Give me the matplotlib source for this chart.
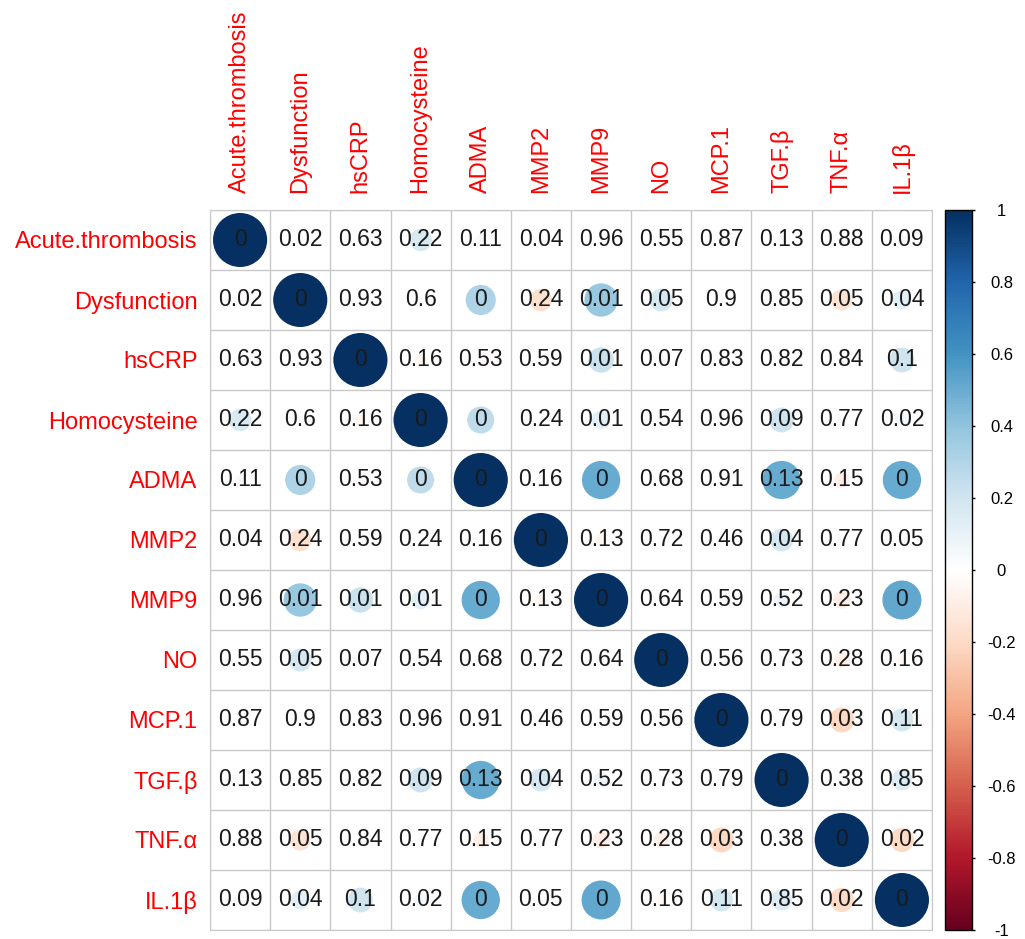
import numpy as np
import matplotlib
matplotlib.use('Agg')
import matplotlib.pyplot as plt
from matplotlib.colors import LinearSegmentedColormap, Normalize
from matplotlib.patches import Circle
import matplotlib.cm as cm

plt.rcParams['font.family'] = ['Liberation Sans', 'DejaVu Sans']

labels = ['Acute.thrombosis', 'Dysfunction', 'hsCRP', 'Homocysteine', 'ADMA', 'MMP2',
          'MMP9', 'NO', 'MCP.1', 'TGF.β', 'TNF.α', 'IL.1β']

corr = np.array([
    [1, -0.03, 0.02, 0.17, -0.04, 0.03, 0.02, 0.02, 0.02, 0.03, -0.02, 0.04],
    [-0.03, 1, 0.02, -0.02, 0.31, -0.17, 0.38, 0.18, 0.02, 0.02, -0.15, 0.12],
    [0.02, 0.02, 1, -0.05, -0.03, 0.02, 0.22, 0.03, -0.02, 0.02, 0.02, 0.21],
    [0.17, -0.02, -0.05, 1, 0.25, 0.02, 0.12, 0.03, 0.01, 0.21, 0.02, 0.06],
    [-0.04, 0.31, -0.03, 0.25, 1, 0.03, 0.5, 0.02, 0.01, 0.5, -0.08, 0.5],
    [0.03, -0.17, 0.02, 0.02, 0.03, 1, -0.05, 0.02, 0.03, 0.18, 0.02, 0.03],
    [0.02, 0.38, 0.22, 0.12, 0.5, -0.05, 1, 0.02, 0.03, 0.08, -0.1, 0.52],
    [0.02, 0.18, 0.03, 0.03, 0.02, 0.02, 0.02, 1, 0.03, 0.02, -0.08, -0.04],
    [0.02, 0.02, -0.02, 0.01, 0.01, 0.03, 0.03, 0.03, 1, 0.01, -0.21, 0.18],
    [0.03, 0.02, 0.02, 0.21, 0.5, 0.18, 0.08, 0.02, 0.01, 1, 0.03, 0.15],
    [-0.02, -0.15, 0.02, 0.02, -0.08, 0.02, -0.1, -0.08, -0.21, 0.03, 1, -0.2],
    [0.04, 0.12, 0.21, 0.06, 0.5, 0.03, 0.52, -0.04, 0.18, 0.15, -0.2, 1],
])

# p values printed in the cells
pvals = np.array([
    [0, 0.02, 0.63, 0.22, 0.11, 0.04, 0.96, 0.55, 0.87, 0.13, 0.88, 0.09],
    [0.02, 0, 0.93, 0.6, 0, 0.24, 0.01, 0.05, 0.9, 0.85, 0.05, 0.04],
    [0.63, 0.93, 0, 0.16, 0.53, 0.59, 0.01, 0.07, 0.83, 0.82, 0.84, 0.1],
    [0.22, 0.6, 0.16, 0, 0, 0.24, 0.01, 0.54, 0.96, 0.09, 0.77, 0.02],
    [0.11, 0, 0.53, 0, 0, 0.16, 0, 0.68, 0.91, 0.13, 0.15, 0],
    [0.04, 0.24, 0.59, 0.24, 0.16, 0, 0.13, 0.72, 0.46, 0.04, 0.77, 0.05],
    [0.96, 0.01, 0.01, 0.01, 0, 0.13, 0, 0.64, 0.59, 0.52, 0.23, 0],
    [0.55, 0.05, 0.07, 0.54, 0.68, 0.72, 0.64, 0, 0.56, 0.73, 0.28, 0.16],
    [0.87, 0.9, 0.83, 0.96, 0.91, 0.46, 0.59, 0.56, 0, 0.79, 0.03, 0.11],
    [0.13, 0.85, 0.82, 0.09, 0.13, 0.04, 0.52, 0.73, 0.79, 0, 0.38, 0.85],
    [0.88, 0.05, 0.84, 0.77, 0.15, 0.77, 0.23, 0.28, 0.03, 0.38, 0, 0.02],
    [0.09, 0.04, 0.1, 0.02, 0, 0.05, 0, 0.16, 0.11, 0.85, 0.02, 0],
])

cbar_ticks = [-1, -0.8, -0.6, -0.4, -0.2, 0, 0.2, 0.4, 0.6, 0.8, 1]
cbar_labels = ['-1', '-0.8', '-0.6', '-0.4', '-0.2', '0', '0.2', '0.4', '0.6', '0.8', '1']

# corrplot RdBu palette
cmap = LinearSegmentedColormap.from_list('rdbu', ["#67001F", "#B2182B", "#D6604D", "#F4A582", "#FDDBC7",
                                                  "#FFFFFF", "#D1E5F0", "#92C5DE", "#4393C3", "#2166AC", "#053061"])
norm = Normalize(-1, 1)

W, H = 1025, 939
fig = plt.figure(figsize=(W / 100, H / 100), dpi=100)
ax = fig.add_axes([210 / W, (H - 930) / H, 722 / W, 720 / H])

n = len(labels)
ax.set_xlim(0, n)
ax.set_ylim(n, 0)

# cells: circles + p value text
for i in range(n):
    for j in range(n):
        r = corr[i, j]
        ax.add_patch(Circle((j + 0.5, i + 0.5), 0.45 * np.sqrt(abs(r)),
                            facecolor=cmap(norm(r)), edgecolor='none', zorder=2))
        ax.text(j + 0.5, i + 0.5, f'{pvals[i, j]:g}', ha='center', va='center',
                fontsize=16.5, color='#1a1a1a', zorder=3)

# grid
ax.set_xticks(np.arange(n + 1), minor=True)
ax.set_yticks(np.arange(n + 1), minor=True)
ax.grid(which='minor', color='#c8c8c8', linewidth=1, zorder=1)
ax.tick_params(which='both', length=0)

ax.set_xticks(np.arange(n) + 0.5)
ax.set_xticklabels(labels, rotation=90, color='red', fontsize=17)
ax.xaxis.tick_top()
ax.tick_params(axis='x', pad=12)
ax.set_yticks(np.arange(n) + 0.5)
ax.set_yticklabels(labels, color='red', fontsize=17)
ax.tick_params(axis='y', pad=9)
for s in ax.spines.values():
    s.set_color('#c8c8c8')

# colour bar
cax = fig.add_axes([945 / W, (H - 930) / H, 27 / W, 720 / H])
sm = cm.ScalarMappable(norm=norm, cmap=cmap)
cb = fig.colorbar(sm, cax=cax, ticks=cbar_ticks)
cb.ax.set_yticklabels(cbar_labels)
cb.outline.set_edgecolor('black')
cb.outline.set_linewidth(1)
cb.ax.tick_params(length=2.2, width=1, labelsize=12, pad=19)
for t in cb.ax.get_yticklabels():
    t.set_horizontalalignment('center')

fig.savefig('out.png', dpi=100)
